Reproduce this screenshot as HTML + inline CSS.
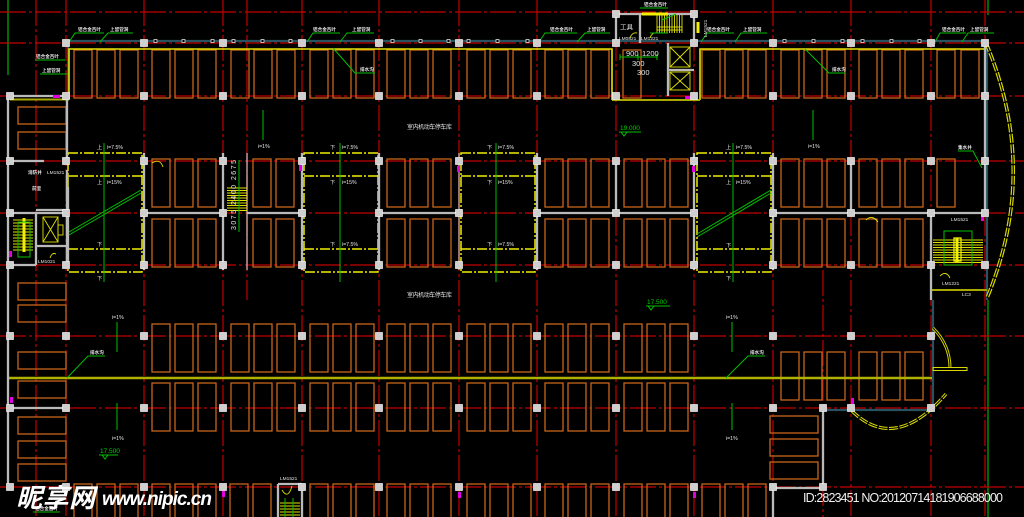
<!DOCTYPE html>
<html><head><meta charset="utf-8"><style>
html,body{margin:0;padding:0;background:#000;}
svg{display:block;}
.t{fill:#e6e6e6;font-family:"Liberation Sans","Noto Sans CJK SC",sans-serif;}
.g{fill:#00d000;font-family:"Liberation Sans",sans-serif;}
</style></head><body>
<svg width="1024" height="517" viewBox="0 0 1024 517" xmlns="http://www.w3.org/2000/svg">
<defs>
<g id="s3"><rect x="8" y="0" width="18" height="48"/><rect x="31" y="0" width="18" height="48"/><rect x="54" y="0" width="18" height="48"/></g>
<rect id="c" x="-3.5" y="-3.5" width="7" height="7" fill="#cfcfcf" stroke="#f2f2f2" stroke-width="0.7"/>
<rect id="hs" x="0" y="0" width="48" height="17"/>
</defs>
<rect width="1024" height="517" fill="#000"/>

<!-- green edge lines -->
<g stroke="#00b000" stroke-width="1.2">
<path d="M8,0V75M988,0V15M988,300V517"/>
</g>

<!-- red grid -->
<g stroke="#c40000" stroke-width="1.2" stroke-dasharray="26 3 3 3" fill="none">
<path d="M0,12H1024M0,43H1024M0,96H1024M0,161H1024M0,213H1024M0,265H1024M0,336H1024M0,408H1024M0,487H1024"/>
<path d="M36,0V517M66,0V517M144,0V517M223,0V517M247,0V300M302,0V517M379,0V517M459,0V517M537,0V517M616,0V517M694,0V517M773,0V517M823,270V517M851,0V517M931,0V517M985,0V517"/>
</g>

<!-- parking stalls -->
<g fill="none" stroke="#c8641a" stroke-width="1.3">
<use href="#s3" x="66" y="50"/><use href="#s3" x="144" y="50"/><use href="#s3" x="223" y="50"/><use href="#s3" x="302" y="50"/><use href="#s3" x="379" y="50"/><use href="#s3" x="459" y="50"/><use href="#s3" x="537" y="50"/><use href="#s3" x="694" y="50"/><use href="#s3" x="773" y="50"/><use href="#s3" x="851" y="50"/>
<rect x="623" y="50" width="18" height="48"/><rect x="937" y="50" width="18" height="48"/><rect x="961" y="50" width="18" height="48"/>

<use href="#s3" x="144" y="159"/><use href="#s3" x="379" y="159"/><use href="#s3" x="537" y="159"/><use href="#s3" x="616" y="159"/><use href="#s3" x="773" y="159"/><use href="#s3" x="851" y="159"/>
<rect x="253" y="159" width="18" height="48"/><rect x="276" y="159" width="18" height="48"/><rect x="937" y="159" width="18" height="48"/>
<use href="#s3" x="144" y="219"/><use href="#s3" x="379" y="219"/><use href="#s3" x="537" y="219"/><use href="#s3" x="616" y="219"/><use href="#s3" x="773" y="219"/><use href="#s3" x="851" y="219"/>
<rect x="253" y="219" width="18" height="48"/><rect x="276" y="219" width="18" height="48"/>

<use href="#s3" x="144" y="324"/><use href="#s3" x="223" y="324"/><use href="#s3" x="302" y="324"/><use href="#s3" x="379" y="324"/><use href="#s3" x="459" y="324"/><use href="#s3" x="537" y="324"/><use href="#s3" x="616" y="324"/>
<use href="#s3" x="144" y="383"/><use href="#s3" x="223" y="383"/><use href="#s3" x="302" y="383"/><use href="#s3" x="379" y="383"/><use href="#s3" x="459" y="383"/><use href="#s3" x="537" y="383"/><use href="#s3" x="616" y="383"/>
<use href="#s3" x="773" y="352"/><use href="#s3" x="851" y="352"/>

<use href="#s3" x="66" y="484"/><use href="#s3" x="144" y="484"/><use href="#s3" x="302" y="484"/><use href="#s3" x="379" y="484"/><use href="#s3" x="459" y="484"/><use href="#s3" x="537" y="484"/><use href="#s3" x="616" y="484"/><use href="#s3" x="694" y="484"/>
<rect x="230" y="484" width="18" height="48"/><rect x="253" y="484" width="18" height="48"/>

<use href="#hs" x="18" y="107"/><use href="#hs" x="18" y="132"/><use href="#hs" x="18" y="283"/><use href="#hs" x="18" y="305"/><use href="#hs" x="18" y="352"/><use href="#hs" x="18" y="381"/><use href="#hs" x="18" y="417"/><use href="#hs" x="18" y="441"/><use href="#hs" x="18" y="464"/>
<use href="#hs" x="770" y="416"/><use href="#hs" x="770" y="439"/><use href="#hs" x="770" y="462"/>
</g>

<!-- top teal band -->
<g stroke="#27525f" stroke-width="2.2" fill="none">
<path d="M66,41H985M68,43V96M987,43V300M933,300V408M823,410H931"/>
</g>
<g fill="#000" stroke="#dcdcdc" stroke-width="0.8">
<rect x="154" y="39.5" width="3" height="3"/><rect x="182" y="39.5" width="3" height="3"/><rect x="211" y="39.5" width="3" height="3"/><rect x="232" y="39.5" width="3" height="3"/><rect x="261" y="39.5" width="3" height="3"/><rect x="289" y="39.5" width="3" height="3"/>
<rect x="391" y="39.5" width="3" height="3"/><rect x="419" y="39.5" width="3" height="3"/><rect x="447" y="39.5" width="3" height="3"/><rect x="467" y="39.5" width="3" height="3"/><rect x="496" y="39.5" width="3" height="3"/><rect x="526" y="39.5" width="3" height="3"/>
<rect x="783" y="39.5" width="3" height="3"/><rect x="812" y="39.5" width="3" height="3"/><rect x="841" y="39.5" width="3" height="3"/><rect x="861" y="39.5" width="3" height="3"/><rect x="890" y="39.5" width="3" height="3"/><rect x="918" y="39.5" width="3" height="3"/>
</g>

<!-- yellow / olive lines -->
<g fill="none">
<path d="M69,99V49H612V100M700,100V49H986" stroke="#e6e600" stroke-width="1.6"/>
<path d="M10,99.5H69M612,100H700M931,290H987" stroke="#a8a800" stroke-width="2"/>
<path d="M8,378H932" stroke="#b0b000" stroke-width="2.6"/>
</g>

<!-- ramps -->
<g fill="none" stroke="#f0f000" stroke-width="1.5" stroke-dasharray="10 2 2 2">
<rect x="68" y="153" width="74" height="119"/><path d="M68,176H142M68,249H142"/>
<rect x="304" y="153" width="74" height="119"/><path d="M304,176H378M304,249H378"/>
<rect x="461" y="153" width="74" height="119"/><path d="M461,176H535M461,249H535"/>
<rect x="697" y="153" width="74" height="119"/><path d="M697,176H771M697,249H771"/>
</g>

<!-- walls -->
<g fill="none" stroke="#bababa" stroke-width="2.3">
<path d="M8,96V490M8,96H66M67,100V160M67,170V265M10,161H44M10,213H66M36,213V265M36,210H66M36,246H66M10,265H36M8,408H66"/>
<path d="M144,153V270M223,153V270M302,153V270M379,153V270M537,153V270M694,153V270M773,153V270M616,161V213M851,161V213M931,213V300M985,43V213"/>
<path d="M144,213H223M247,213H302M379,213H459M537,213H694M773,213H985M68,187V265"/>
<path d="M823,408V488H773M773,488V517M278,484V517M278,484H302M302,484V517"/>
<path d="M616,14V43M694,14V43M616,14H694M640,14V43M668,43V96M668,70H694"/>
</g>
<g fill="none" stroke="#d8b0b0" stroke-width="1.3">
<path d="M247,153V270M459,153V270"/>
</g>

<!-- stairs and elevators -->
<g fill="none" stroke="#e0e000" stroke-width="0.9">
<path d="M13,220H33M13,223H33M13,226H33M13,229H33M13,232H33M13,235H33M13,238H33M13,241H33M13,244H33M13,247H33M13,250H33"/>
<path d="M227,188H247M227,190.5H247M227,193H247M227,195.5H247M227,198H247M227,200.5H247M227,203H247M227,205.5H247M227,208H247M227,210.5H247"/>
<path d="M933,240H983M933,242.5H983M933,245H983M933,247.5H983M933,250H983M933,252.5H983M933,255H983M933,257.5H983M933,260H983M933,262.5H983"/>
<path d="M657,15V33M659.5,15V33M662,15V33M664.5,15V33M667,15V33M669.5,15V33M672,15V33M674.5,15V33M677,15V33M679.5,15V33M682,15V33"/>
<path d="M280,503H300M280,506H300M280,509H300M280,512H300M280,515H300"/>
<rect x="43" y="217" width="15" height="25"/><path d="M43,217L58,242M58,217L43,242"/><rect x="58" y="225" width="5" height="10"/>
<rect x="670" y="47" width="20" height="20"/><path d="M670,47L690,67M690,47L670,67"/>
<rect x="670" y="72" width="20" height="18"/><path d="M670,72L690,90M690,72L670,90"/>
<rect x="657" y="27" width="25" height="3"/>
<path d="M630,38Q632,32 637,33M650,38Q652,32 657,33M50,258Q52,252 56,254M152,163Q160,158 163,167M940,276Q946,270 950,278M282,490Q288,500 292,486M866,220Q872,214 878,222"/>
</g>
<g stroke="#f0f000" stroke-width="3" fill="none"><path d="M24,218V252M642,14H668M957,238V262M698,22V33"/></g>
<rect x="954" y="238" width="7" height="23" fill="none" stroke="#f0f000" stroke-width="1.3"/>

<!-- right arcs -->
<g fill="none" stroke-linecap="butt">
<path d="M986,43Q1040,170 987,298" stroke="#d8d800" stroke-width="3.6" stroke-dasharray="9 1.5"/>
<path d="M986,43Q1040,170 987,298" stroke="#000" stroke-width="1.2"/>
<path d="M933,328Q950,345 950,368" stroke="#d8d800" stroke-width="3"/>
<path d="M933,328Q950,345 950,368" stroke="#000" stroke-width="1"/>
<path d="M852,411Q895,453 946,394" stroke="#d8d800" stroke-width="3.2" stroke-dasharray="9 1.5"/>
<path d="M852,411Q895,453 946,394" stroke="#000" stroke-width="1"/>
</g>
<rect x="933" y="367.5" width="34" height="3" fill="none" stroke="#d8d800" stroke-width="1"/>

<!-- green lines -->
<g stroke="#00c000" stroke-width="1" fill="none">
<path d="M104,143V282M340,143V282M496,143V282M733,143V282"/>
<path d="M69,232L141,190M69,235L141,193M697,234L771,190M697,237L771,193"/>
<path d="M263,110V140M813,110V140M117,322V352M117,403V430M732,322V352M732,403V430"/>
<path d="M69,42L75,33H104M100,42L108,33H133M35,60H65M40,74H68M307,42L313,33H340M340,42L347,33H374M333,48L355,73H375M539,42L545,33H577M577,42L585,33H610M640,8H668M701,42L707,33H734M735,42L741,33H767M805,49L829,73H845M935,42L940,33H966M962,42L968,33H994M958,151H973L982,168M67,378L88,356H105M726,378L748,356H765M33,512H60"/>
<path d="M619,132H641M621,132L624,136L627,132M646,306H670M648,306L651,310L654,306M99,455H118M102,455L105,459L108,455"/>
<path d="M620,57H657M620,54V60M638,54V60M657,54V60M239,160V232"/>
<rect x="18" y="222" width="12" height="35"/><rect x="944" y="231" width="28" height="34"/>
<path d="M285,498V517M293,498V517M662,20L676,14M650,33H668"/>
</g>

<!-- magenta markers -->
<g fill="#e000e0">
<rect x="53" y="95" width="7" height="3"/><rect x="9" y="251" width="3" height="6"/><rect x="299" y="165" width="3" height="6"/><rect x="457" y="166" width="3" height="6"/><rect x="692" y="166" width="3" height="6"/><rect x="981" y="215" width="3" height="6"/><rect x="685" y="96" width="7" height="3"/><rect x="10" y="397" width="3" height="6"/><rect x="851" y="398" width="3" height="6"/><rect x="693" y="492" width="3" height="6"/><rect x="222" y="491" width="3" height="6"/><rect x="458" y="492" width="3" height="6"/>
</g>

<!-- columns -->
<g>
<use href="#c" x="616" y="14"/><use href="#c" x="694" y="14"/>
<use href="#c" x="66" y="43"/><use href="#c" x="144" y="43"/><use href="#c" x="223" y="43"/><use href="#c" x="302" y="43"/><use href="#c" x="379" y="43"/><use href="#c" x="459" y="43"/><use href="#c" x="537" y="43"/><use href="#c" x="616" y="43"/><use href="#c" x="694" y="43"/><use href="#c" x="773" y="43"/><use href="#c" x="851" y="43"/><use href="#c" x="931" y="43"/><use href="#c" x="985" y="43"/>
<use href="#c" x="10" y="96"/><use href="#c" x="66" y="96"/><use href="#c" x="144" y="96"/><use href="#c" x="223" y="96"/><use href="#c" x="302" y="96"/><use href="#c" x="379" y="96"/><use href="#c" x="459" y="96"/><use href="#c" x="537" y="96"/><use href="#c" x="616" y="96"/><use href="#c" x="694" y="96"/><use href="#c" x="773" y="96"/><use href="#c" x="851" y="96"/><use href="#c" x="931" y="96"/><use href="#c" x="985" y="96"/>
<use href="#c" x="10" y="161"/><use href="#c" x="66" y="161"/><use href="#c" x="144" y="161"/><use href="#c" x="223" y="161"/><use href="#c" x="302" y="161"/><use href="#c" x="379" y="161"/><use href="#c" x="459" y="161"/><use href="#c" x="537" y="161"/><use href="#c" x="616" y="161"/><use href="#c" x="694" y="161"/><use href="#c" x="773" y="161"/><use href="#c" x="851" y="161"/><use href="#c" x="931" y="161"/><use href="#c" x="985" y="161"/>
<use href="#c" x="10" y="213"/><use href="#c" x="66" y="213"/><use href="#c" x="144" y="213"/><use href="#c" x="223" y="213"/><use href="#c" x="302" y="213"/><use href="#c" x="379" y="213"/><use href="#c" x="459" y="213"/><use href="#c" x="537" y="213"/><use href="#c" x="616" y="213"/><use href="#c" x="694" y="213"/><use href="#c" x="773" y="213"/><use href="#c" x="851" y="213"/><use href="#c" x="931" y="213"/><use href="#c" x="985" y="213"/>
<use href="#c" x="10" y="265"/><use href="#c" x="66" y="265"/><use href="#c" x="144" y="265"/><use href="#c" x="223" y="265"/><use href="#c" x="302" y="265"/><use href="#c" x="379" y="265"/><use href="#c" x="459" y="265"/><use href="#c" x="537" y="265"/><use href="#c" x="616" y="265"/><use href="#c" x="694" y="265"/><use href="#c" x="773" y="265"/><use href="#c" x="851" y="265"/><use href="#c" x="931" y="265"/><use href="#c" x="985" y="265"/>
<use href="#c" x="10" y="336"/><use href="#c" x="66" y="336"/><use href="#c" x="144" y="336"/><use href="#c" x="223" y="336"/><use href="#c" x="302" y="336"/><use href="#c" x="379" y="336"/><use href="#c" x="459" y="336"/><use href="#c" x="537" y="336"/><use href="#c" x="616" y="336"/><use href="#c" x="694" y="336"/><use href="#c" x="773" y="336"/><use href="#c" x="851" y="336"/><use href="#c" x="931" y="336"/>
<use href="#c" x="10" y="408"/><use href="#c" x="66" y="408"/><use href="#c" x="144" y="408"/><use href="#c" x="223" y="408"/><use href="#c" x="302" y="408"/><use href="#c" x="379" y="408"/><use href="#c" x="459" y="408"/><use href="#c" x="537" y="408"/><use href="#c" x="616" y="408"/><use href="#c" x="694" y="408"/><use href="#c" x="773" y="408"/><use href="#c" x="823" y="408"/><use href="#c" x="851" y="408"/><use href="#c" x="931" y="408"/>
<use href="#c" x="10" y="487"/><use href="#c" x="66" y="487"/><use href="#c" x="144" y="487"/><use href="#c" x="223" y="487"/><use href="#c" x="302" y="487"/><use href="#c" x="379" y="487"/><use href="#c" x="459" y="487"/><use href="#c" x="537" y="487"/><use href="#c" x="616" y="487"/><use href="#c" x="694" y="487"/><use href="#c" x="773" y="487"/><use href="#c" x="823" y="487"/>
</g>

<!-- small labels -->
<g class="t" font-size="4.6" font-weight="bold">
<text x="78" y="31">铝合金百叶</text><text x="110" y="31">上留管洞</text>
<text x="36" y="58">铝合金百叶</text><text x="42" y="72">上留管洞</text>
<text x="313" y="31">铝合金百叶</text><text x="352" y="31">上留管洞</text><text x="360" y="71">排水沟</text>
<text x="550" y="31">铝合金百叶</text><text x="587" y="31">上留管洞</text><text x="644" y="6">铝合金百叶</text>
<text x="707" y="31">铝合金百叶</text><text x="743" y="31">上留管洞</text><text x="832" y="71">排水沟</text>
<text x="942" y="31">铝合金百叶</text><text x="970" y="31">上留管洞</text>
<text x="958" y="149">集水井</text>
<text x="90" y="354">排水沟</text><text x="750" y="354">排水沟</text>
<text x="35" y="510">铝合金百叶</text>
<text x="28" y="174">消防井</text><text x="32" y="190">前室</text>
</g>
<g class="t" font-size="4.8">
<text x="47" y="174">LM1521</text><text x="38" y="263">LM1021</text>
<text x="619" y="40">LM0821</text><text x="641" y="40">LM1221</text>
<text x="951" y="221">LM1521</text><text x="942" y="285">LM1221</text><text x="962" y="296">LC3</text>
<text x="280" y="480">LM1521</text>
<text transform="translate(707,37) rotate(-90)">LM1521</text>
</g>
<g class="t" font-size="6.5">
<text x="620" y="29">工具</text>
</g>
<g class="t" font-size="7.5" fill="#d0d0d0">
<text x="626" y="56">900</text><text x="642" y="56">1200</text>
<text x="632" y="66">300</text><text x="637" y="75">300</text>
<text transform="translate(236,230) rotate(-90)" textLength="70" font-size="7">3075 2400 2675</text>
</g>

<!-- ramp labels -->
<g class="t" font-size="5.2">
<text x="97" y="149">上</text><text x="107" y="149">i=7.5%</text>
<text x="97" y="184">上</text><text x="107" y="184">i=15%</text>
<text x="97" y="246">下</text><text x="97" y="280">下</text>
<text x="330" y="149">下</text><text x="342" y="149">i=7.5%</text>
<text x="330" y="184">下</text><text x="342" y="184">i=15%</text>
<text x="330" y="246">下</text><text x="342" y="246">i=7.5%</text>
<text x="487" y="149">下</text><text x="498" y="149">i=7.5%</text>
<text x="487" y="184">下</text><text x="498" y="184">i=15%</text>
<text x="487" y="246">下</text><text x="498" y="246">i=7.5%</text>
<text x="726" y="149">上</text><text x="736" y="149">i=7.5%</text>
<text x="726" y="184">上</text><text x="736" y="184">i=15%</text>
<text x="726" y="247">下</text><text x="726" y="280">下</text>
<text x="258" y="148">i=1%</text><text x="808" y="148">i=1%</text>
<text x="112" y="319">i=1%</text><text x="112" y="440">i=1%</text>
<text x="726" y="319">i=1%</text><text x="726" y="440">i=1%</text>
</g>
<g class="t" font-size="6">
<text x="407" y="129" textLength="45">室内机动车停车库</text>
<text x="407" y="297" textLength="45">室内机动车停车库</text>
</g>
<g class="g" font-size="6.5">
<text x="620" y="130">19.000</text>
<text x="647" y="304">17.500</text>
<text x="100" y="453">17.500</text>
</g>

<!-- watermark -->
<text x="16" y="507" fill="#ffffff" font-family="'Liberation Sans','Noto Sans CJK SC',sans-serif" font-size="26" font-weight="bold" font-style="italic" textLength="79">昵享网</text>
<text x="102" y="505" fill="#ffffff" font-family="'Liberation Sans',sans-serif" font-size="19" font-weight="bold" font-style="italic" textLength="110">www.nipic.cn</text>
<text x="803" y="502" fill="#f0f0f0" font-family="'Liberation Sans',sans-serif" font-size="12.5" textLength="200">ID:2823451 NO:20120714181906688000</text>
</svg>
</body></html>
